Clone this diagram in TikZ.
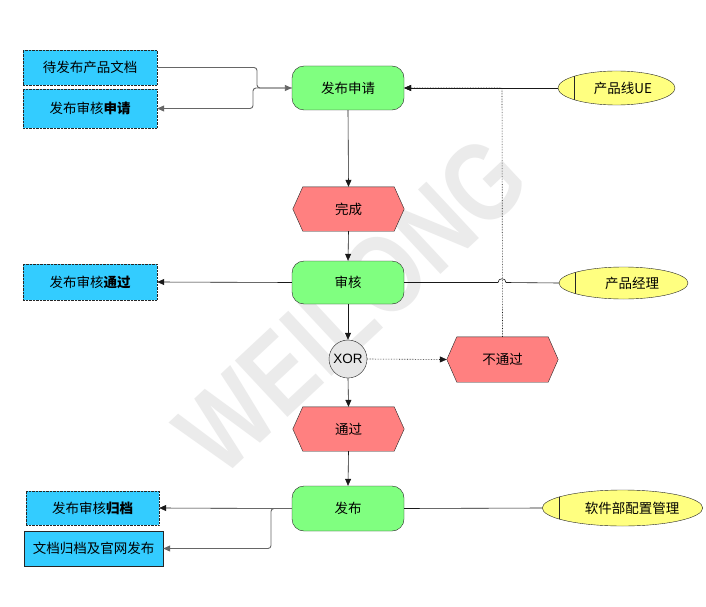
\documentclass[tikz,border=0pt]{standalone}
\usepackage{fontspec}
\setmainfont{Noto Sans CJK SC}
\newfontfamily\latinsans{Liberation Sans}
\usetikzlibrary{shapes.geometric,arrows.meta,calc}
\definecolor{boxcyan}{HTML}{33CCFF}
\definecolor{fungreen}{HTML}{80FF80}
\definecolor{evtred}{HTML}{FF8080}
\definecolor{orgyellow}{HTML}{FFFF80}
\definecolor{xorgray}{HTML}{E6E6E6}
\definecolor{wmgray}{HTML}{EBEBEB}
\pgfdeclarelayer{bg}
\pgfsetlayers{bg,main}
\begin{document}
\begin{tikzpicture}[x=1pt,y=-1pt,
  font=\fontsize{13.5}{16}\selectfont,
  docbox/.style={rectangle, draw=black!85, densely dotted, fill=boxcyan, inner sep=0pt},
  docsolid/.style={rectangle, draw=black!85, fill=boxcyan, inner sep=0pt},
  funbox/.style={rectangle, rounded corners=12pt, draw=black!85, fill=fungreen, minimum width=112pt, minimum height=44pt, inner sep=0pt},
  evtbox/.style={rectangle, minimum width=111pt, minimum height=44pt, inner sep=0pt},
  hexline/.style={draw=black!85, fill=evtred},
  orgell/.style={ellipse, draw=black!85, fill=orgyellow, inner sep=0pt,
     path picture={\draw[black!85] ([xshift=#1]path picture bounding box.south west) -- ([xshift=#1]path picture bounding box.north west);}},
  xorc/.style={circle, draw=black!85, fill=xorgray, minimum size=38pt, inner sep=0pt, font=\latinsans\fontsize{13.5}{16}\selectfont},
  arr/.style={-{Triangle[length=7pt,width=6pt]}},
  conn/.style={draw=black!90, line width=0.6pt},
  gconn/.style={draw=black!60, line width=0.9pt, rounded corners=3pt},
]
\useasboundingbox (0,0) rectangle (706,607);

% background and watermark
\begin{pgfonlayer}{bg}
\fill[white] (0,0) rectangle (706,607);
\node[text=wmgray, rotate=43, xscale=0.8, font=\latinsans\bfseries\fontsize{112}{114}\selectfont] (wm) at (352,305) {WEILONG};
\end{pgfonlayer}

% left document boxes
\node[docbox, minimum width=134pt, minimum height=35pt] (a) at (90,67.5) {待发布产品文档};
\node[docbox, minimum width=134pt, minimum height=39pt] (b) at (90,108.5) {发布审核\textbf{申请}};
\node[docbox, minimum width=134pt, minimum height=36pt] (c) at (90,282) {发布审核\textbf{通过}};
\node[docbox, minimum width=133pt, minimum height=34pt] (d) at (92.5,508) {发布审核\textbf{归档}};
\node[docsolid, minimum width=139pt, minimum height=35pt] (e) at (93.5,548.5) {文档归档及官网发布};

% functions
\node[funbox] (f1) at (348,88) {发布申请};
\node[funbox, minimum height=43pt] (f2) at (348,282.5) {审核};
\node[funbox, minimum height=45pt] (f3) at (348,508.5) {发布};

% events
\node[evtbox] (e1) at (348.5,209) {完成};
\node[evtbox] (e2) at (348.5,429) {通过};
\node[evtbox, minimum height=45pt] (e3) at (502.5,359.5) {不通过};
\begin{pgfonlayer}{bg}
\foreach \n in {e1,e2,e3} {
  \path[hexline] ($(\n.north west)+(10,0)$) -- ($(\n.north east)+(-10,0)$) -- (\n.east)
    -- ($(\n.south east)+(-10,0)$) -- ($(\n.south west)+(10,0)$) -- (\n.west) -- cycle;
}
\end{pgfonlayer}

% XOR
\node[xorc] (x) at (348,359) {XOR};

% organisation units
\node[orgell=16pt, minimum width=117pt, minimum height=34pt] (o1) at (616.5,88) {\hspace*{13pt}产品线UE};
\node[orgell=16pt, minimum width=129pt, minimum height=32pt] (o2) at (623.5,283) {\hspace*{17pt}产品经理};
\node[orgell=17pt, minimum width=131pt, minimum height=36pt] (o3) at (622.5,508) {\hspace*{19pt}软件部配置管理};

% coordinates
\coordinate (ja) at (257,88);
\coordinate (jb) at (253,88);
\coordinate (jf) at (271,508.5);
\coordinate (jd) at (502,88);

% left connectors
\draw[gconn, arr] (a.east) -| (ja) -- (f1.west);
\draw[gconn, arr] (f1.west) -- (jb) |- (b.east);
\draw[conn, arr] (f2.west) -- (c.east);
\draw[conn, arr] (f3.west) -- (d.east);
\draw[gconn, arr] (f3.west) -- (jf) |- (e.east);

% main flow
\draw[conn, arr] (f1.south) -- (e1.north);
\draw[conn, arr] (e1.south) -- (f2.north);
\draw[conn, arr] (f2.south) -- (x.north);
\draw[conn, arr] (x.south) -- (e2.north);
\draw[conn, arr] (e2.south) -- (f3.north);
\draw[conn, arr, densely dotted] (x.east) -- (e3.west);
\draw[conn, densely dotted, arr] (e3.north) -- (jd) -- (f1.east);

% org connectors
\draw[conn, arr] (o1.west) -- (f1.east);
\draw[conn] (f2.east) -- (498,282.5) .. controls (498,277.5) and (506,277.5) .. (506,282.5) -- (o2.west);
\draw[conn] (f3.east) -- (o3.west);
\end{tikzpicture}
\end{document}
